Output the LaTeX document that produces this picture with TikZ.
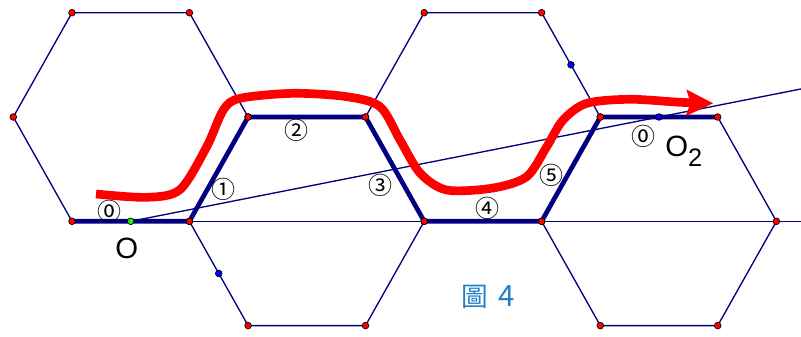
\documentclass[tikz,border=0pt]{standalone}
\usepackage{fontspec}
\newfontfamily\labelfont{Liberation Sans}
\newfontfamily\circfont{Noto Sans CJK TC}
\newfontfamily\cjkfont{Noto Sans CJK TC}
\usetikzlibrary{arrows.meta,calc}
\definecolor{hexblue}{RGB}{0,0,128}
\definecolor{captionblue}{RGB}{30,128,204}
\definecolor{ptgreen}{RGB}{40,230,30}

\begin{document}
\begin{tikzpicture}[x=44.025pt,y=-78.225pt,
    hexedge/.style={hexblue,line width=1pt},
    pathedge/.style={hexblue,line width=3.5pt,line join=round},
    vtx/.style={draw=black,line width=0.5pt},
    num/.style={font=\circfont\fontsize{18pt}{18pt}\selectfont,inner sep=0pt},
    ptlabel/.style={font=\labelfont\fontsize{22pt}{22pt}\selectfont,inner sep=0pt,anchor=base west}]
    \useasboundingbox (-0.2266,-0.1218) rectangle (13.419,3.0997);

    % Hexagons
    \foreach \cx/\cy in {2/1,5/2,8/1,11/2} {
        \draw[hexedge] ({\cx-2},\cy) -- ({\cx-1},{\cy-1}) -- ({\cx+1},{\cy-1}) -- ({\cx+2},\cy)
            -- ({\cx+1},{\cy+1}) -- ({\cx-1},{\cy+1}) -- cycle;
    }

    % Lines through O
    \coordinate (O) at (2,2);
    \coordinate (O2) at (11,1);
    \draw[hexedge] (O) -- (13.42,2);
    \draw[hexedge] (O) -- ($(O)!1.269!(O2)$);

    % Path along the edges
    \draw[pathedge] (1,2) -- (3,2) -- (4,1) -- (6,1) -- (7,2) -- (9,2) -- (10,1) -- (12,1);

    % Red curve
    \draw[red,line width=6.5pt,-{Stealth[length=20pt,width=19pt,inset=3pt]}] plot[smooth] coordinates {
        (1.409,1.738) (2.273,1.770) (2.840,1.696) (3.295,1.285) (3.578,0.933) (3.862,0.821)
        (4.770,0.773) (5.680,0.805) (6.247,0.901) (6.588,1.220) (6.929,1.537) (7.383,1.700)
        (8.172,1.681) (8.746,1.572) (9.087,1.285) (9.365,1.029) (9.768,0.869) (10.506,0.830)
        (11.358,0.859) (11.925,0.869)};

    % Vertices
    \foreach \cx/\cy in {2/1,5/2,8/1,11/2} {
        \foreach \dx/\dy in {-2/0,-1/-1,1/-1,2/0,1/1,-1/1} {
            \filldraw[vtx,fill=red] ({\cx+\dx},{\cy+\dy}) circle (2.5pt);
        }
    }
    \filldraw[vtx,fill=blue] (3.5,2.5) circle (2.5pt);
    \filldraw[vtx,fill=blue] (9.5,0.5) circle (2.5pt);
    \filldraw[vtx,fill=blue] (O2) circle (2.5pt);
    \filldraw[vtx,fill=ptgreen] (O) circle (2.5pt);

    % Edge numbers
    \node[num] (e0) at (1.635,1.901) {⓪};
    \node[num] (e1) at (3.589,1.690) {①};
    \node[num] (e2) at (4.816,1.125) {②};
    \node[num] (e3) at (6.247,1.652) {③};
    \node[num] (e4) at (8.075,1.875) {④};
    \node[num] (e5) at (9.172,1.563) {⑤};
    \node[num] (e6) at (10.733,1.187) {⓪};

    % Labels
    \node[ptlabel] (lblO) at (1.733,2.355) {O};
    \node[ptlabel] (lblO2) at (11.102,1.381) {O\raisebox{-7.5pt}{\fontsize{19pt}{19pt}\selectfont 2}};
    \node[font=\cjkfont\fontsize{20pt}{20pt}\selectfont,text=captionblue,anchor=base west,inner sep=0pt] (caption) at (7.627,2.819) {圖\hspace{8pt}{\fontsize{22pt}{22pt}\selectfont 4}};
\end{tikzpicture}
\end{document}
